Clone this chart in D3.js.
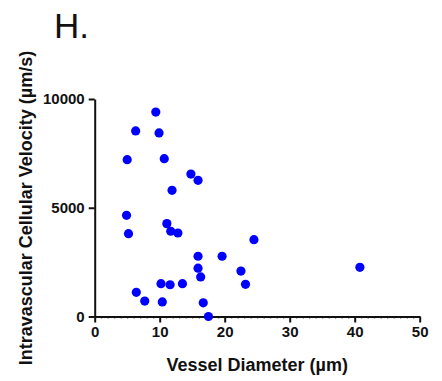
<!DOCTYPE html>
<html>
<head>
<meta charset="utf-8">
<script src="https://cdn.jsdelivr.net/npm/d3@7"></script>
<style>
  html, body { margin: 0; padding: 0; background: #fff; }
  svg { display: block; }
  text { font-family: "Liberation Sans", Arial, sans-serif; }
</style>
</head>
<body>
<div id="chart"></div>
<script>
// Vessel diameter (µm) and intravascular cellular velocity (µm/s) per vessel
const diameter = [9.4, 6.3, 9.9, 5.0, 10.7, 14.8, 15.9, 11.9, 4.9, 5.2, 11.1, 11.7, 12.8, 24.5,
                  15.9, 19.6, 15.9, 40.8, 22.5, 16.3, 10.2, 11.6, 13.5, 23.2, 6.4, 7.7, 10.4, 16.7, 17.5];
const velocity = [9400, 8530, 8440, 7210, 7255, 6550, 6260, 5800, 4650, 3810, 4270, 3920, 3840, 3530,
                  2770, 2770, 2220, 2260, 2090, 1820, 1510, 1460, 1510, 1480, 1110, 710, 670, 630, 0];
const xTicks = [0, 10, 20, 30, 40, 50];
const yTicks = [0, 5000, 10000];

const W = 442, H = 381;
const margin = { left: 94.7, right: W - 419.7, top: 99, bottom: H - 316.5 };

const svg = d3.select("#chart").append("svg")
  .attr("width", W).attr("height", H);

const x = d3.scaleLinear().domain([0, 50]).range([margin.left, W - margin.right]);
const y = d3.scaleLinear().domain([0, 10000]).range([H - margin.bottom, margin.top]);

// Panel letter
svg.append("text")
  .attr("x", 54).attr("y", 38)
  .attr("font-size", 35)
  .attr("fill", "#111")
  .text("H.");

// Minor x ticks every 1 µm
const xMinor = d3.axisBottom(x)
  .tickValues(d3.range(0, 51, 1).filter(v => v % 10 !== 0))
  .tickSize(2.5).tickFormat("");
svg.append("g")
  .attr("transform", `translate(0,${y(0)})`)
  .call(xMinor)
  .call(g => g.select(".domain").remove())
  .call(g => g.selectAll(".tick line").attr("stroke", "#999").attr("stroke-width", 1));

// Major x axis
const xAxis = svg.append("g")
  .attr("transform", `translate(0,${y(0)})`)
  .call(d3.axisBottom(x).tickValues(xTicks).tickSize(6).tickSizeOuter(0).tickPadding(4));
xAxis.select(".domain").attr("stroke", "#111").attr("stroke-width", 2);
xAxis.selectAll(".tick line").attr("stroke", "#111").attr("stroke-width", 2);
xAxis.selectAll(".tick text")
  .attr("font-family", "Liberation Sans, Arial, sans-serif")
  .attr("font-size", 15).attr("font-weight", "bold").attr("fill", "#111");

// Y axis
const yAxis = svg.append("g")
  .attr("transform", `translate(${x(0)},0)`)
  .call(d3.axisLeft(y).tickValues(yTicks).tickSize(6).tickSizeOuter(0).tickPadding(4)
    .tickFormat(d3.format("d")));
yAxis.select(".domain").attr("stroke", "#111").attr("stroke-width", 2);
yAxis.selectAll(".tick line").attr("stroke", "#111").attr("stroke-width", 2);
yAxis.selectAll(".tick text")
  .attr("font-family", "Liberation Sans, Arial, sans-serif")
  .attr("font-size", 15).attr("font-weight", "bold").attr("fill", "#111");

// Axis titles
svg.append("text")
  .attr("x", (x(0) + x(50)) / 2).attr("y", 371)
  .attr("text-anchor", "middle")
  .attr("font-size", 18).attr("font-weight", "bold").attr("fill", "#111")
  .text("Vessel Diameter (µm)");

svg.append("text")
  .attr("transform", `translate(32,208) rotate(-90)`)
  .attr("text-anchor", "middle")
  .attr("font-size", 18).attr("font-weight", "bold").attr("fill", "#111")
  .text("Intravascular Cellular Velocity (µm/s)");

// Points
const pts = diameter.map((d, i) => ({ d, v: velocity[i] }));
svg.append("g")
  .selectAll("circle")
  .data(pts)
  .join("circle")
  .attr("cx", p => x(p.d))
  .attr("cy", p => y(p.v))
  .attr("r", 4.6)
  .attr("fill", "#0000ff");
</script>
</body>
</html>
